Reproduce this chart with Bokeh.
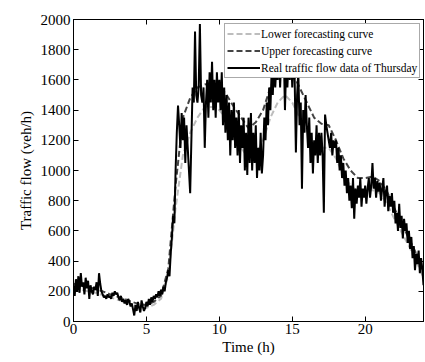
from bokeh.plotting import figure
from bokeh.models import LinearAxis, FixedTicker, Legend, LegendItem, Range1d
from bokeh.embed import file_html
from bokeh.resources import INLINE

# Real traffic flow (veh/h), 5-minute steps from 0 h to 24 h
real_flow = [
    240, 170, 280, 200, 300, 190, 320, 230, 260, 180, 290, 220,
    270, 150, 240, 200, 180, 230, 210, 260, 170, 320, 250, 200,
    180, 160, 170, 150, 180, 160, 170, 150, 190, 170, 200, 180,
    190, 160, 140, 170, 130, 150, 120, 140, 110, 150, 130, 100,
    120, 80, 40, 110, 70, 130, 90, 60, 140, 100, 70, 90,
    130, 100, 150, 110, 160, 130, 170, 150, 180, 160, 200, 170,
    210, 180, 230, 200, 260, 290, 340, 300, 450, 560, 700, 650,
    1000, 1250, 1430, 1300, 1150, 1380, 1200, 1350, 1050, 1300, 1150, 1000,
    850, 1200, 1550, 1450, 1920, 1500, 1450, 1550, 1970, 1500, 1450, 1550,
    1150, 1450, 1600, 1350, 1650, 1450, 1720, 1400, 1600, 1350, 1650, 1450,
    1600, 1400, 1650, 1300, 1550, 1250, 1500, 1200, 1450, 1100, 1400, 1200,
    1450, 1150, 1350, 1100, 1400, 1050, 1300, 1150, 1350, 1000, 1250, 970,
    1350, 1050, 1380, 1000, 1250, 1050, 1300, 950, 1150, 1000, 1250, 980,
    1100, 1350, 1200, 1450, 1300, 1550, 1400, 1650, 1500, 1750, 1550, 1700,
    1600, 1800, 1550, 1750, 1650, 1800, 1400, 1700, 1550, 1750, 1600, 1800,
    1550, 1750, 1600, 1120, 1500, 1650, 1300, 1450, 880, 1400, 1250, 1500,
    1300, 1150, 1350, 1050, 1250, 980, 1200, 1100, 1300, 1050, 1250, 1100,
    1250, 1100, 720, 1370, 1300, 1250, 1200, 1150, 1250, 1100, 1200, 1150,
    1200, 1050, 1150, 1000, 1100, 950, 1050, 900, 1000, 850, 950, 800,
    900, 750, 950, 680, 880, 780, 900, 820, 950, 760, 880, 820,
    900, 780, 880, 950, 820, 900, 1050, 880, 950, 820, 930, 860,
    920, 800, 880, 950, 760, 860, 900, 730, 830, 760, 850, 720,
    800, 650, 720, 600, 780, 620, 700, 550, 680, 600, 650, 520,
    600, 480, 560, 420, 500, 340, 450, 380, 470, 320, 420, 350,
    240,
]
real_time = [i / 12 for i in range(len(real_flow))]

# Forecast curves (veh/h), 30-minute steps from 0 h to 24 h
upper_flow = [
    250, 240, 230, 215, 200, 180, 165, 150, 130, 115, 110, 130,
    170, 350, 900, 1350, 1480, 1550, 1570, 1580, 1560, 1500, 1420, 1350,
    1280, 1320, 1400, 1550, 1650, 1700, 1650, 1550, 1450, 1350, 1310, 1300,
    1200, 1080, 1000, 950, 950, 960, 930, 860, 750, 650, 550, 450,
    330,
]
lower_flow = [
    220, 210, 200, 190, 175, 160, 145, 130, 110, 95, 90, 110,
    150, 300, 750, 1100, 1250, 1350, 1420, 1420, 1400, 1340, 1250, 1150,
    1080, 1100, 1200, 1350, 1450, 1500, 1450, 1350, 1250, 1180, 1150, 1150,
    1080, 970, 900, 860, 860, 870, 850, 780, 680, 590, 500, 400,
    290,
]
fc_time = [i / 2 for i in range(len(upper_flow))]

x_ticks = [0, 5, 10, 15, 20]
y_ticks = [0, 200, 400, 600, 800, 1000, 1200, 1400, 1600, 1800, 2000]
legend_labels = ["Lower forecasting curve", "Upper forecasting curve",
                 "Real traffic flow data of Thursday"]

FONT = "Liberation Serif"

p = figure(width=425, height=362, output_backend="svg", toolbar_location=None,
           x_range=Range1d(0, 24), y_range=Range1d(0, 2000),
           min_border_left=73, min_border_right=2, min_border_top=19,
           min_border_bottom=41)
p.background_fill_color = "white"
p.border_fill_color = "white"
p.outline_line_color = "black"
p.outline_line_width = 1
p.grid.visible = False

r_low = p.line(fc_time, lower_flow, line_color="#bdbdbd", line_width=2,
               line_dash="6 3")
r_up = p.line(fc_time, upper_flow, line_color="#444444", line_width=2,
              line_dash="6 3")
r_real = p.line(real_time, real_flow, line_color="black", line_width=2)


def style_axis(ax, ticks):
    ax.ticker = FixedTicker(ticks=ticks)
    ax.major_tick_in = 5
    ax.major_tick_out = 0
    ax.minor_tick_in = 0
    ax.minor_tick_out = 0
    ax.axis_line_color = "black"
    ax.major_tick_line_color = "black"
    ax.major_label_text_font = FONT
    ax.major_label_text_font_size = "15px"
    ax.major_label_text_color = "black"
    ax.axis_label_text_font = FONT
    ax.axis_label_text_font_size = "15px"
    ax.axis_label_text_font_style = "normal"
    ax.axis_label_text_color = "black"


style_axis(p.xaxis[0], x_ticks)
style_axis(p.yaxis[0], y_ticks)
p.xaxis[0].axis_label = "Time (h)"
p.yaxis[0].axis_label = "Traffic flow (veh/h)"
p.xaxis[0].major_label_standoff = 2
p.xaxis[0].axis_label_standoff = 2
p.yaxis[0].major_label_standoff = 3
p.yaxis[0].axis_label_standoff = 4

top_ax = LinearAxis()
style_axis(top_ax, x_ticks)
top_ax.major_label_overrides = {t: "" for t in x_ticks}
top_ax.major_label_standoff = 0
p.add_layout(top_ax, "above")

right_ax = LinearAxis()
style_axis(right_ax, y_ticks)
right_ax.major_label_overrides = {t: "" for t in y_ticks}
right_ax.major_label_standoff = 0
p.add_layout(right_ax, "right")

legend = Legend(items=[
    LegendItem(label=legend_labels[0], renderers=[r_low]),
    LegendItem(label=legend_labels[1], renderers=[r_up]),
    LegendItem(label=legend_labels[2], renderers=[r_real]),
], location=(151, 243))
legend.label_text_font = FONT
legend.label_text_font_size = "11.5px"
legend.label_text_color = "black"
legend.glyph_width = 33
legend.glyph_height = 15
legend.label_height = 15
legend.label_standoff = 1
legend.spacing = 2
legend.padding = 2
legend.margin = 0
legend.border_line_color = "#555555"
legend.border_line_width = 1
legend.background_fill_color = "white"
legend.background_fill_alpha = 1
p.add_layout(legend, "center")

open("out.html", "w").write(file_html(p, INLINE))
